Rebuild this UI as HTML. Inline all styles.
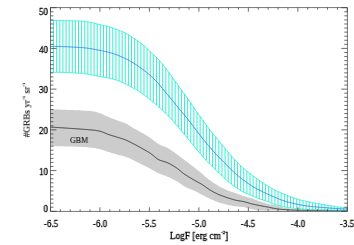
<!DOCTYPE html>
<html><head><meta charset="utf-8"><style>
html,body{margin:0;padding:0;background:#fff;}
body{width:354px;height:245px;position:relative;overflow:hidden;font-family:"Liberation Serif",serif;color:#000;}
div{will-change:transform;-webkit-text-stroke:0.3px #000;}
svg{position:absolute;left:0;top:0;}
.xl{position:absolute;top:217.6px;width:40px;text-align:center;font-size:10px;line-height:12px;transform:scaleX(0.9);}
.yl{position:absolute;left:17.9px;width:30px;text-align:right;font-size:10px;line-height:12px;transform:scaleX(0.9);transform-origin:100% 50%;}
.xt{position:absolute;left:99px;width:200px;top:229.6px;text-align:center;font-size:10px;line-height:12px;white-space:nowrap;transform:scaleX(0.93);}
.yt{position:absolute;left:26.9px;top:109.5px;width:0;height:0;}
.yt span{position:absolute;display:block;width:120px;left:-60px;top:-6px;text-align:center;font-size:10px;line-height:12px;transform:rotate(-90deg) scale(0.93,0.88);-webkit-text-stroke:0.12px #000;white-space:nowrap;}
sup{font-size:5px;line-height:0;vertical-align:5px;margin-left:0.3px;}
.gbm{position:absolute;left:70.4px;top:133.6px;font-size:8.6px;line-height:12px;transform:scaleX(0.92);transform-origin:0 50%;-webkit-text-stroke:0.15px #222;color:#222;}
</style></head><body>
<svg width="354" height="245" viewBox="0 0 354 245">
<path d="M50.5,109.30 L51.5,109.33 L52.5,109.36 L53.5,109.40 L54.5,109.43 L55.5,109.46 L56.5,109.50 L57.5,109.53 L58.5,109.57 L59.5,109.60 L60.5,109.64 L61.5,109.67 L62.5,109.71 L63.5,109.75 L64.5,109.78 L65.5,109.82 L66.5,109.86 L67.5,109.89 L68.5,109.93 L69.5,109.97 L70.5,110.00 L71.5,110.04 L72.5,110.07 L73.5,110.11 L74.5,110.15 L75.5,110.19 L76.5,110.23 L77.5,110.28 L78.5,110.32 L79.5,110.37 L80.5,110.42 L81.5,110.47 L82.5,110.53 L83.5,110.59 L84.5,110.65 L85.5,110.71 L86.5,110.78 L87.5,110.85 L88.5,110.93 L89.5,111.01 L90.5,111.11 L91.5,111.21 L92.5,111.33 L93.5,111.45 L94.5,111.61 L95.5,111.83 L96.5,112.10 L97.5,112.41 L98.5,112.74 L99.5,113.08 L100.5,113.44 L101.5,113.84 L102.5,114.27 L103.5,114.73 L104.5,115.20 L105.5,115.66 L106.5,116.13 L107.5,116.57 L108.5,116.99 L109.5,117.39 L110.5,117.80 L111.5,118.20 L112.5,118.60 L113.5,118.99 L114.5,119.37 L115.5,119.76 L116.5,120.13 L117.5,120.50 L118.5,120.85 L119.5,121.17 L120.5,121.50 L121.5,121.82 L122.5,122.16 L123.5,122.51 L124.5,122.90 L125.5,123.32 L126.5,123.81 L127.5,124.36 L128.4,124.96 L129.4,125.59 L130.4,126.24 L131.4,126.89 L132.4,127.53 L133.4,128.14 L134.4,128.71 L135.4,129.26 L136.4,129.80 L137.4,130.32 L138.4,130.85 L139.4,131.38 L140.4,131.91 L141.4,132.46 L142.4,133.03 L143.4,133.61 L144.4,134.20 L145.4,134.80 L146.4,135.40 L147.4,136.02 L148.4,136.66 L149.4,137.30 L150.4,137.96 L151.4,138.66 L152.4,139.41 L153.4,140.21 L154.4,141.03 L155.4,141.84 L156.4,142.62 L157.4,143.34 L158.4,143.99 L159.4,144.53 L160.4,145.00 L161.4,145.41 L162.4,145.79 L163.4,146.16 L164.4,146.53 L165.4,146.93 L166.4,147.38 L167.4,147.89 L168.4,148.46 L169.4,149.07 L170.4,149.73 L171.4,150.41 L172.4,151.11 L173.4,151.82 L174.4,152.53 L175.4,153.23 L176.4,153.94 L177.4,154.66 L178.4,155.40 L179.4,156.14 L180.4,156.89 L181.4,157.65 L182.4,158.40 L183.4,159.16 L184.4,159.92 L185.4,160.68 L186.4,161.44 L187.4,162.21 L188.4,162.98 L189.4,163.75 L190.4,164.52 L191.4,165.30 L192.4,166.07 L193.4,166.85 L194.4,167.61 L195.4,168.37 L196.4,169.13 L197.4,169.89 L198.4,170.67 L199.4,171.47 L200.4,172.29 L201.4,173.16 L202.4,174.09 L203.4,175.04 L204.4,175.97 L205.4,176.84 L206.4,177.65 L207.4,178.42 L208.4,179.17 L209.4,179.90 L210.4,180.62 L211.4,181.34 L212.4,182.03 L213.4,182.70 L214.4,183.36 L215.4,183.99 L216.4,184.60 L217.4,185.21 L218.4,185.80 L219.4,186.38 L220.4,186.94 L221.4,187.49 L222.4,188.03 L223.4,188.55 L224.4,189.06 L225.4,189.55 L226.4,190.01 L227.4,190.42 L228.4,190.80 L229.4,191.15 L230.4,191.48 L231.4,191.81 L232.4,192.12 L233.4,192.45 L234.4,192.77 L235.4,193.12 L236.4,193.48 L237.4,193.85 L238.4,194.23 L239.4,194.61 L240.4,194.99 L241.4,195.36 L242.4,195.71 L243.4,196.05 L244.4,196.37 L245.4,196.66 L246.4,196.94 L247.4,197.21 L248.4,197.47 L249.4,197.74 L250.4,198.01 L251.4,198.30 L252.4,198.62 L253.4,198.96 L254.4,199.34 L255.4,199.74 L256.4,200.14 L257.4,200.52 L258.4,200.88 L259.4,201.22 L260.4,201.56 L261.4,201.88 L262.4,202.20 L263.4,202.51 L264.4,202.81 L265.4,203.10 L266.4,203.38 L267.4,203.64 L268.4,203.90 L269.4,204.14 L270.4,204.37 L271.4,204.60 L272.4,204.83 L273.4,205.05 L274.4,205.28 L275.4,205.51 L276.4,205.75 L277.4,206.00 L278.4,206.25 L279.4,206.49 L280.4,206.74 L281.4,206.98 L282.4,207.20 L283.4,207.41 L284.4,207.61 L285.4,207.80 L286.4,207.99 L287.4,208.18 L288.4,208.36 L289.4,208.52 L290.4,208.67 L291.4,208.80 L292.4,208.90 L293.4,208.99 L294.4,209.07 L295.4,209.14 L296.4,209.20 L297.4,209.26 L298.4,209.31 L299.4,209.37 L300.4,209.43 L301.4,209.48 L302.4,209.54 L303.4,209.60 L304.4,209.66 L305.4,209.71 L306.4,209.77 L307.4,209.81 L308.4,209.85 L309.4,209.89 L310.4,209.91 L311.4,209.93 L312.4,209.96 L313.4,209.98 L314.4,210.00 L315.4,210.02 L316.4,210.03 L317.4,210.05 L318.4,210.07 L319.4,210.08 L320.4,210.10 L321.4,210.11 L322.4,210.12 L323.4,210.14 L324.4,210.15 L325.4,210.16 L326.4,210.17 L327.4,210.18 L328.4,210.19 L329.4,210.20 L330.4,210.20 L331.4,210.21 L332.4,210.22 L333.4,210.23 L334.4,210.24 L335.4,210.24 L336.4,210.25 L337.4,210.26 L338.4,210.26 L339.4,210.27 L340.4,210.27 L341.4,210.28 L342.4,210.28 L343.4,210.29 L344.4,210.29 L345.4,210.30 L346.4,210.30 L346.4,210.50 L345.4,210.50 L344.4,210.50 L343.4,210.50 L342.4,210.50 L341.4,210.50 L340.4,210.50 L339.4,210.50 L338.4,210.50 L337.4,210.50 L336.4,210.50 L335.4,210.50 L334.4,210.50 L333.4,210.50 L332.4,210.50 L331.4,210.50 L330.4,210.50 L329.4,210.50 L328.4,210.50 L327.4,210.50 L326.4,210.50 L325.4,210.50 L324.4,210.50 L323.4,210.50 L322.4,210.50 L321.4,210.50 L320.4,210.50 L319.4,210.50 L318.4,210.50 L317.4,210.50 L316.4,210.50 L315.4,210.50 L314.4,210.50 L313.4,210.50 L312.4,210.50 L311.4,210.50 L310.4,210.50 L309.4,210.50 L308.4,210.50 L307.4,210.50 L306.4,210.50 L305.4,210.50 L304.4,210.50 L303.4,210.50 L302.4,210.50 L301.4,210.50 L300.4,210.50 L299.4,210.50 L298.4,210.50 L297.4,210.50 L296.4,210.50 L295.4,210.50 L294.4,210.50 L293.4,210.50 L292.4,210.50 L291.4,210.50 L290.4,210.50 L289.4,210.50 L288.4,210.50 L287.4,210.50 L286.4,210.50 L285.4,210.50 L284.4,210.50 L283.4,210.50 L282.4,210.50 L281.4,210.50 L280.4,210.50 L279.4,210.50 L278.4,210.50 L277.4,210.50 L276.4,210.50 L275.4,210.50 L274.4,210.50 L273.4,210.50 L272.4,210.50 L271.4,210.50 L270.4,210.50 L269.4,210.50 L268.4,210.50 L267.4,210.48 L266.4,210.46 L265.4,210.44 L264.4,210.40 L263.4,210.37 L262.4,210.32 L261.4,210.27 L260.4,210.22 L259.4,210.17 L258.4,210.08 L257.4,209.98 L256.4,209.85 L255.4,209.70 L254.4,209.54 L253.4,209.38 L252.4,209.21 L251.4,209.01 L250.4,208.77 L249.4,208.49 L248.4,208.20 L247.4,207.91 L246.4,207.63 L245.4,207.39 L244.4,207.19 L243.4,207.04 L242.4,206.93 L241.4,206.83 L240.4,206.75 L239.4,206.68 L238.4,206.60 L237.4,206.52 L236.4,206.42 L235.4,206.31 L234.4,206.17 L233.4,206.00 L232.4,205.82 L231.4,205.62 L230.4,205.41 L229.4,205.18 L228.4,204.95 L227.4,204.73 L226.4,204.50 L225.4,204.27 L224.4,204.03 L223.4,203.79 L222.4,203.53 L221.4,203.26 L220.4,202.98 L219.4,202.67 L218.4,202.35 L217.4,201.99 L216.4,201.60 L215.4,201.19 L214.4,200.76 L213.4,200.31 L212.4,199.85 L211.4,199.38 L210.4,198.92 L209.4,198.46 L208.4,197.97 L207.4,197.48 L206.4,196.97 L205.4,196.46 L204.4,195.94 L203.4,195.43 L202.4,194.93 L201.4,194.42 L200.4,193.90 L199.4,193.39 L198.4,192.87 L197.4,192.35 L196.4,191.84 L195.4,191.35 L194.4,190.86 L193.4,190.39 L192.4,189.95 L191.4,189.54 L190.4,189.13 L189.4,188.73 L188.4,188.32 L187.4,187.89 L186.4,187.43 L185.4,186.93 L184.4,186.37 L183.4,185.74 L182.4,185.06 L181.4,184.36 L180.4,183.64 L179.4,182.93 L178.4,182.25 L177.4,181.62 L176.4,181.05 L175.4,180.50 L174.4,179.98 L173.4,179.46 L172.4,178.97 L171.4,178.49 L170.4,178.02 L169.4,177.56 L168.4,177.11 L167.4,176.68 L166.4,176.26 L165.4,175.87 L164.4,175.50 L163.4,175.14 L162.4,174.78 L161.4,174.40 L160.4,174.01 L159.4,173.60 L158.4,173.15 L157.4,172.66 L156.4,172.15 L155.4,171.61 L154.4,171.06 L153.4,170.51 L152.4,169.95 L151.4,169.41 L150.4,168.87 L149.4,168.35 L148.4,167.83 L147.4,167.31 L146.4,166.79 L145.4,166.27 L144.4,165.75 L143.4,165.24 L142.4,164.73 L141.4,164.21 L140.4,163.69 L139.4,163.17 L138.4,162.66 L137.4,162.14 L136.4,161.64 L135.4,161.14 L134.4,160.66 L133.4,160.19 L132.4,159.71 L131.4,159.24 L130.4,158.77 L129.4,158.31 L128.4,157.87 L127.5,157.45 L126.5,157.06 L125.5,156.72 L124.5,156.41 L123.5,156.13 L122.5,155.87 L121.5,155.62 L120.5,155.39 L119.5,155.15 L118.5,154.91 L117.5,154.65 L116.5,154.37 L115.5,154.09 L114.5,153.79 L113.5,153.49 L112.5,153.18 L111.5,152.88 L110.5,152.56 L109.5,152.25 L108.5,151.94 L107.5,151.63 L106.5,151.30 L105.5,150.96 L104.5,150.61 L103.5,150.27 L102.5,149.94 L101.5,149.63 L100.5,149.34 L99.5,149.09 L98.5,148.86 L97.5,148.64 L96.5,148.44 L95.5,148.25 L94.5,148.09 L93.5,147.95 L92.5,147.83 L91.5,147.71 L90.5,147.59 L89.5,147.48 L88.5,147.38 L87.5,147.29 L86.5,147.20 L85.5,147.12 L84.5,147.05 L83.5,146.98 L82.5,146.93 L81.5,146.88 L80.5,146.84 L79.5,146.80 L78.5,146.76 L77.5,146.72 L76.5,146.69 L75.5,146.66 L74.5,146.63 L73.5,146.61 L72.5,146.58 L71.5,146.55 L70.5,146.53 L69.5,146.51 L68.5,146.48 L67.5,146.46 L66.5,146.44 L65.5,146.41 L64.5,146.39 L63.5,146.37 L62.5,146.34 L61.5,146.32 L60.5,146.30 L59.5,146.27 L58.5,146.25 L57.5,146.23 L56.5,146.21 L55.5,146.19 L54.5,146.17 L53.5,146.15 L52.5,146.13 L51.5,146.12 L50.5,146.10 Z" fill="#cccccc"/>
<path d="M50.5,127.10 L51.5,127.16 L52.5,127.22 L53.5,127.28 L54.5,127.34 L55.5,127.40 L56.5,127.46 L57.5,127.52 L58.5,127.58 L59.5,127.65 L60.5,127.71 L61.5,127.77 L62.5,127.84 L63.5,127.90 L64.5,127.97 L65.5,128.04 L66.5,128.10 L67.5,128.17 L68.5,128.24 L69.5,128.30 L70.5,128.37 L71.5,128.44 L72.5,128.51 L73.5,128.58 L74.5,128.65 L75.5,128.72 L76.5,128.79 L77.5,128.87 L78.5,128.94 L79.5,129.01 L80.5,129.09 L81.5,129.17 L82.5,129.24 L83.5,129.32 L84.5,129.39 L85.5,129.46 L86.5,129.54 L87.5,129.61 L88.5,129.69 L89.5,129.78 L90.5,129.86 L91.5,129.95 L92.5,130.05 L93.5,130.16 L94.5,130.28 L95.5,130.40 L96.5,130.55 L97.5,130.71 L98.5,130.89 L99.5,131.09 L100.5,131.34 L101.5,131.66 L102.5,132.02 L103.5,132.43 L104.5,132.85 L105.5,133.29 L106.5,133.71 L107.5,134.12 L108.5,134.48 L109.5,134.82 L110.5,135.14 L111.5,135.44 L112.5,135.75 L113.5,136.05 L114.5,136.35 L115.5,136.65 L116.5,136.96 L117.5,137.27 L118.5,137.59 L119.5,137.89 L120.5,138.20 L121.5,138.52 L122.5,138.84 L123.5,139.18 L124.5,139.54 L125.5,139.92 L126.5,140.33 L127.5,140.77 L128.4,141.24 L129.4,141.72 L130.4,142.23 L131.4,142.74 L132.4,143.25 L133.4,143.77 L134.4,144.28 L135.4,144.80 L136.4,145.33 L137.4,145.86 L138.4,146.40 L139.4,146.95 L140.4,147.51 L141.4,148.06 L142.4,148.63 L143.4,149.19 L144.4,149.76 L145.4,150.33 L146.4,150.90 L147.4,151.49 L148.4,152.09 L149.4,152.72 L150.4,153.37 L151.4,154.07 L152.4,154.86 L153.4,155.70 L154.4,156.55 L155.4,157.39 L156.4,158.19 L157.4,158.91 L158.4,159.52 L159.4,160.00 L160.4,160.40 L161.4,160.74 L162.4,161.05 L163.4,161.34 L164.4,161.64 L165.4,161.96 L166.4,162.32 L167.4,162.74 L168.4,163.19 L169.4,163.67 L170.4,164.19 L171.4,164.73 L172.4,165.30 L173.4,165.89 L174.4,166.50 L175.4,167.13 L176.4,167.81 L177.4,168.56 L178.4,169.35 L179.4,170.17 L180.4,171.01 L181.4,171.83 L182.4,172.63 L183.4,173.38 L184.4,174.08 L185.4,174.75 L186.4,175.40 L187.4,176.04 L188.4,176.66 L189.4,177.28 L190.4,177.88 L191.4,178.48 L192.4,179.07 L193.4,179.66 L194.4,180.24 L195.4,180.79 L196.4,181.34 L197.4,181.88 L198.4,182.43 L199.4,182.98 L200.4,183.54 L201.4,184.12 L202.4,184.73 L203.4,185.38 L204.4,186.07 L205.4,186.79 L206.4,187.52 L207.4,188.24 L208.4,188.94 L209.4,189.61 L210.4,190.23 L211.4,190.81 L212.4,191.38 L213.4,191.94 L214.4,192.47 L215.4,192.99 L216.4,193.48 L217.4,193.96 L218.4,194.41 L219.4,194.83 L220.4,195.23 L221.4,195.62 L222.4,195.98 L223.4,196.34 L224.4,196.68 L225.4,197.02 L226.4,197.35 L227.4,197.68 L228.4,198.02 L229.4,198.35 L230.4,198.68 L231.4,199.00 L232.4,199.31 L233.4,199.60 L234.4,199.87 L235.4,200.11 L236.4,200.33 L237.4,200.53 L238.4,200.71 L239.4,200.88 L240.4,201.05 L241.4,201.22 L242.4,201.40 L243.4,201.60 L244.4,201.83 L245.4,202.08 L246.4,202.35 L247.4,202.63 L248.4,202.92 L249.4,203.21 L250.4,203.50 L251.4,203.76 L252.4,204.01 L253.4,204.24 L254.4,204.46 L255.4,204.68 L256.4,204.89 L257.4,205.09 L258.4,205.29 L259.4,205.49 L260.4,205.69 L261.4,205.88 L262.4,206.07 L263.4,206.25 L264.4,206.44 L265.4,206.62 L266.4,206.80 L267.4,206.99 L268.4,207.19 L269.4,207.40 L270.4,207.62 L271.4,207.84 L272.4,208.05 L273.4,208.26 L274.4,208.44 L275.4,208.61 L276.4,208.75 L277.4,208.89 L278.4,209.03 L279.4,209.15 L280.4,209.27 L281.4,209.38 L282.4,209.48 L283.4,209.56 L284.4,209.64 L285.4,209.72 L286.4,209.79 L287.4,209.86 L288.4,209.92 L289.4,209.98 L290.4,210.03 L291.4,210.07 L292.4,210.10 L293.4,210.13 L294.4,210.15 L295.4,210.18 L296.4,210.20 L297.4,210.22 L298.4,210.24 L299.4,210.26 L300.4,210.28 L301.4,210.30 L302.4,210.31 L303.4,210.33 L304.4,210.34 L305.4,210.35 L306.4,210.36 L307.4,210.38 L308.4,210.39 L309.4,210.40 L310.4,210.40 L311.4,210.41 L312.4,210.42 L313.4,210.43 L314.4,210.44 L315.4,210.45 L316.4,210.45 L317.4,210.46 L318.4,210.47 L319.4,210.48 L320.4,210.49 L321.4,210.49 L322.4,210.50 L323.4,210.51 L324.4,210.51 L325.4,210.52 L326.4,210.53 L327.4,210.53 L328.4,210.54 L329.4,210.54 L330.4,210.55 L331.4,210.56 L332.4,210.56 L333.4,210.57 L334.4,210.57 L335.4,210.57 L336.4,210.58 L337.4,210.58 L338.4,210.59 L339.4,210.59 L340.4,210.59 L341.4,210.59 L342.4,210.60 L343.4,210.60 L344.4,210.60 L345.4,210.60 L346.4,210.60" fill="none" stroke="#3a3a3a" stroke-width="1.0"/>
<defs><filter id="b" x="-5%" y="-5%" width="110%" height="110%"><feGaussianBlur stdDeviation="0.25 0.15"/></filter></defs>
<g filter="url(#b)"><path d="M53.57,20.42V72.21M56.69,20.46V72.26M59.80,20.51V72.32M62.92,20.56V72.42M66.04,20.62V72.53M69.16,20.69V72.67M72.28,20.78V72.82M75.39,20.88V72.99M78.51,21.02V73.18M81.63,21.18V73.38M84.75,21.47V73.68M87.87,21.94V74.17M90.98,22.48V74.77M94.10,23.19V75.43M97.22,24.00V76.08M100.34,24.78V76.66M103.46,25.48V77.14M106.57,26.20V77.64M109.69,27.05V78.25M112.81,28.09V79.00M115.93,29.24V79.89M119.05,30.39V80.99M122.16,31.57V82.36M125.28,32.94V83.84M128.40,34.67V85.36M131.52,36.70V86.98M134.64,38.79V88.72M137.75,40.87V90.61M140.87,43.11V92.65M143.99,45.65V94.84M147.11,48.60V97.23M150.23,51.65V99.73M153.34,54.55V102.29M156.46,57.42V104.93M159.58,60.61V107.67M162.70,64.34V110.50M165.82,68.40V113.44M168.93,72.58V116.55M172.05,76.93V119.89M175.17,81.25V123.42M178.29,85.53V127.01M181.41,89.82V130.73M184.52,94.14V134.49M187.64,98.49V138.24M190.76,102.94V142.00M193.88,107.68V145.76M197.00,112.24V149.56M200.11,116.44V153.32M203.23,120.64V156.90M206.35,124.99V160.33M209.47,129.27V163.64M212.59,133.30V166.86M215.70,137.15V169.99M218.82,140.95V173.01M221.94,144.71V175.91M225.06,148.43V178.71M228.18,152.12V181.38M231.29,155.86V183.99M234.41,159.45V186.40M237.53,162.66V188.52M240.65,165.61V190.43M243.77,168.38V192.13M246.88,171.00V193.60M250.00,173.46V194.91M253.12,175.85V196.20M256.24,178.17V197.52M259.36,180.41V198.76M262.47,182.52V199.83M265.59,184.52V200.79M268.71,186.43V201.87M271.83,188.33V203.27M274.95,190.07V204.55M278.06,191.55V205.44M281.18,192.88V206.15M284.30,194.17V206.78M287.42,195.46V207.35M290.54,196.71V207.85M293.65,197.84V208.24M296.77,198.91V208.55M299.89,199.85V208.82M303.01,200.64V209.11M306.13,201.32V209.40M309.24,201.95V209.60M312.36,202.56V209.70M315.48,203.15V209.77M318.60,203.71V209.83M321.72,204.26V209.89M324.83,204.79V209.94M327.95,205.31V210.00M331.07,205.83V210.08M334.19,206.34V210.18M337.31,206.84V210.28M340.42,207.31V210.35M343.54,207.74V210.40M346.66,208.11V210.40" fill="none" stroke="#1eecce" stroke-width="0.9"/>
<path d="M50.5,20.40 L51.5,20.40 L52.5,20.41 L53.5,20.42 L54.5,20.43 L55.5,20.44 L56.5,20.45 L57.5,20.47 L58.5,20.48 L59.5,20.50 L60.5,20.52 L61.5,20.53 L62.5,20.55 L63.5,20.57 L64.5,20.59 L65.5,20.61 L66.5,20.63 L67.5,20.65 L68.5,20.68 L69.5,20.70 L70.5,20.73 L71.5,20.75 L72.5,20.78 L73.5,20.82 L74.5,20.85 L75.5,20.89 L76.5,20.93 L77.5,20.97 L78.5,21.01 L79.5,21.06 L80.5,21.12 L81.5,21.17 L82.5,21.24 L83.5,21.33 L84.5,21.44 L85.5,21.57 L86.5,21.71 L87.5,21.87 L88.5,22.03 L89.5,22.21 L90.5,22.38 L91.5,22.58 L92.5,22.79 L93.5,23.03 L94.5,23.28 L95.5,23.53 L96.5,23.80 L97.5,24.06 L98.5,24.32 L99.5,24.57 L100.5,24.81 L101.5,25.03 L102.5,25.26 L103.5,25.48 L104.5,25.70 L105.5,25.93 L106.5,26.17 L107.5,26.42 L108.5,26.69 L109.5,26.98 L110.5,27.29 L111.5,27.62 L112.5,27.97 L113.5,28.32 L114.5,28.69 L115.5,29.06 L116.5,29.43 L117.5,29.80 L118.5,30.17 L119.5,30.54 L120.5,30.91 L121.5,31.29 L122.5,31.69 L123.5,32.11 L124.5,32.55 L125.5,33.02 L126.5,33.54 L127.5,34.10 L128.4,34.70 L129.4,35.34 L130.4,35.99 L131.4,36.66 L132.4,37.33 L133.4,38.00 L134.4,38.66 L135.4,39.33 L136.4,39.99 L137.4,40.67 L138.4,41.35 L139.4,42.06 L140.4,42.79 L141.4,43.55 L142.4,44.34 L143.4,45.18 L144.4,46.07 L145.4,47.00 L146.4,47.96 L147.4,48.93 L148.4,49.92 L149.4,50.90 L150.4,51.87 L151.4,52.81 L152.4,53.73 L153.4,54.64 L154.4,55.55 L155.4,56.47 L156.4,57.41 L157.4,58.38 L158.4,59.40 L159.4,60.46 L160.4,61.59 L161.4,62.79 L162.4,64.03 L163.4,65.30 L164.4,66.61 L165.4,67.92 L166.4,69.23 L167.4,70.56 L168.4,71.92 L169.4,73.29 L170.4,74.69 L171.4,76.09 L172.4,77.49 L173.4,78.88 L174.4,80.26 L175.4,81.63 L176.4,83.00 L177.4,84.38 L178.4,85.75 L179.4,87.12 L180.4,88.50 L181.4,89.88 L182.4,91.27 L183.4,92.66 L184.4,94.04 L185.4,95.43 L186.4,96.82 L187.4,98.22 L188.4,99.63 L189.4,101.05 L190.4,102.49 L191.4,103.96 L192.4,105.48 L193.4,107.02 L194.4,108.55 L195.4,110.05 L196.4,111.48 L197.4,112.86 L198.4,114.22 L199.4,115.55 L200.4,116.88 L201.4,118.22 L202.4,119.57 L203.4,120.94 L204.4,122.33 L205.4,123.73 L206.4,125.13 L207.4,126.52 L208.4,127.89 L209.4,129.24 L210.4,130.57 L211.4,131.86 L212.4,133.13 L213.4,134.38 L214.4,135.62 L215.4,136.84 L216.4,138.06 L217.4,139.28 L218.4,140.50 L219.4,141.71 L220.4,142.92 L221.4,144.13 L222.4,145.33 L223.4,146.52 L224.4,147.71 L225.4,148.90 L226.4,150.08 L227.4,151.26 L228.4,152.45 L229.4,153.65 L230.4,154.85 L231.4,156.05 L232.4,157.22 L233.4,158.37 L234.4,159.49 L235.4,160.55 L236.4,161.58 L237.4,162.58 L238.4,163.55 L239.4,164.50 L240.4,165.43 L241.4,166.34 L242.4,167.23 L243.4,168.11 L244.4,168.97 L245.4,169.82 L246.4,170.64 L247.4,171.45 L248.4,172.25 L249.4,173.03 L250.4,173.81 L251.4,174.58 L252.4,175.34 L253.4,176.10 L254.4,176.85 L255.4,177.59 L256.4,178.33 L257.4,179.05 L258.4,179.77 L259.4,180.47 L260.4,181.16 L261.4,181.84 L262.4,182.50 L263.4,183.15 L264.4,183.79 L265.4,184.43 L266.4,185.05 L267.4,185.66 L268.4,186.27 L269.4,186.89 L270.4,187.50 L271.4,188.10 L272.4,188.69 L273.4,189.26 L274.4,189.81 L275.4,190.32 L276.4,190.81 L277.4,191.27 L278.4,191.72 L279.4,192.15 L280.4,192.57 L281.4,192.99 L282.4,193.40 L283.4,193.81 L284.4,194.23 L285.4,194.65 L286.4,195.06 L287.4,195.48 L288.4,195.89 L289.4,196.29 L290.4,196.68 L291.4,197.05 L292.4,197.42 L293.4,197.77 L294.4,198.12 L295.4,198.47 L296.4,198.80 L297.4,199.13 L298.4,199.44 L299.4,199.73 L300.4,200.01 L301.4,200.27 L302.4,200.51 L303.4,200.74 L304.4,200.97 L305.4,201.18 L306.4,201.39 L307.4,201.59 L308.4,201.79 L309.4,201.99 L310.4,202.19 L311.4,202.38 L312.4,202.58 L313.4,202.77 L314.4,202.96 L315.4,203.14 L316.4,203.32 L317.4,203.51 L318.4,203.68 L319.4,203.86 L320.4,204.04 L321.4,204.21 L322.4,204.38 L323.4,204.55 L324.4,204.72 L325.4,204.89 L326.4,205.06 L327.4,205.23 L328.4,205.39 L329.4,205.56 L330.4,205.72 L331.4,205.89 L332.4,206.05 L333.4,206.22 L334.4,206.38 L335.4,206.54 L336.4,206.70 L337.4,206.86 L338.4,207.01 L339.4,207.16 L340.4,207.31 L341.4,207.45 L342.4,207.59 L343.4,207.73 L344.4,207.86 L345.4,207.98 L346.4,208.09" fill="none" stroke="#1eecce" stroke-width="0.85"/>
<path d="M50.5,72.20 L51.5,72.20 L52.5,72.21 L53.5,72.21 L54.5,72.22 L55.5,72.24 L56.5,72.25 L57.5,72.27 L58.5,72.29 L59.5,72.32 L60.5,72.34 L61.5,72.37 L62.5,72.40 L63.5,72.43 L64.5,72.47 L65.5,72.51 L66.5,72.55 L67.5,72.59 L68.5,72.63 L69.5,72.68 L70.5,72.73 L71.5,72.78 L72.5,72.83 L73.5,72.88 L74.5,72.94 L75.5,73.00 L76.5,73.06 L77.5,73.12 L78.5,73.18 L79.5,73.24 L80.5,73.30 L81.5,73.37 L82.5,73.44 L83.5,73.53 L84.5,73.65 L85.5,73.78 L86.5,73.93 L87.5,74.10 L88.5,74.27 L89.5,74.47 L90.5,74.66 L91.5,74.87 L92.5,75.08 L93.5,75.29 L94.5,75.51 L95.5,75.72 L96.5,75.93 L97.5,76.13 L98.5,76.32 L99.5,76.50 L100.5,76.68 L101.5,76.84 L102.5,76.99 L103.5,77.14 L104.5,77.30 L105.5,77.45 L106.5,77.62 L107.5,77.80 L108.5,77.99 L109.5,78.20 L110.5,78.42 L111.5,78.65 L112.5,78.90 L113.5,79.17 L114.5,79.45 L115.5,79.74 L116.5,80.05 L117.5,80.39 L118.5,80.75 L119.5,81.15 L120.5,81.58 L121.5,82.03 L122.5,82.50 L123.5,82.97 L124.5,83.45 L125.5,83.92 L126.5,84.40 L127.5,84.89 L128.4,85.39 L129.4,85.89 L130.4,86.41 L131.4,86.94 L132.4,87.49 L133.4,88.04 L134.4,88.62 L135.4,89.20 L136.4,89.81 L137.4,90.42 L138.4,91.06 L139.4,91.70 L140.4,92.37 L141.4,93.04 L142.4,93.73 L143.4,94.45 L144.4,95.18 L145.4,95.94 L146.4,96.71 L147.4,97.50 L148.4,98.30 L149.4,99.11 L150.4,99.92 L151.4,100.73 L152.4,101.55 L153.4,102.38 L154.4,103.22 L155.4,104.06 L156.4,104.92 L157.4,105.79 L158.4,106.67 L159.4,107.56 L160.4,108.45 L161.4,109.36 L162.4,110.27 L163.4,111.20 L164.4,112.13 L165.4,113.08 L166.4,114.05 L167.4,115.04 L168.4,116.05 L169.4,117.08 L170.4,118.14 L171.4,119.23 L172.4,120.34 L173.4,121.46 L174.4,122.59 L175.4,123.74 L176.4,124.88 L177.4,126.03 L178.4,127.20 L179.4,128.38 L180.4,129.58 L181.4,130.78 L182.4,131.99 L183.4,133.19 L184.4,134.40 L185.4,135.60 L186.4,136.80 L187.4,138.00 L188.4,139.21 L189.4,140.42 L190.4,141.62 L191.4,142.83 L192.4,144.04 L193.4,145.24 L194.4,146.45 L195.4,147.67 L196.4,148.89 L197.4,150.11 L198.4,151.33 L199.4,152.53 L200.4,153.72 L201.4,154.88 L202.4,156.02 L203.4,157.15 L204.4,158.26 L205.4,159.35 L206.4,160.44 L207.4,161.51 L208.4,162.57 L209.4,163.62 L210.4,164.66 L211.4,165.69 L212.4,166.72 L213.4,167.74 L214.4,168.74 L215.4,169.74 L216.4,170.72 L217.4,171.69 L218.4,172.65 L219.4,173.60 L220.4,174.54 L221.4,175.46 L222.4,176.38 L223.4,177.28 L224.4,178.17 L225.4,179.05 L226.4,179.92 L227.4,180.77 L228.4,181.62 L229.4,182.46 L230.4,183.30 L231.4,184.12 L232.4,184.92 L233.4,185.69 L234.4,186.43 L235.4,187.13 L236.4,187.81 L237.4,188.47 L238.4,189.10 L239.4,189.72 L240.4,190.32 L241.4,190.89 L242.4,191.44 L243.4,191.97 L244.4,192.47 L245.4,192.95 L246.4,193.40 L247.4,193.84 L248.4,194.26 L249.4,194.68 L250.4,195.09 L251.4,195.50 L252.4,195.92 L253.4,196.34 L254.4,196.77 L255.4,197.19 L256.4,197.61 L257.4,198.02 L258.4,198.42 L259.4,198.80 L260.4,199.16 L261.4,199.50 L262.4,199.82 L263.4,200.13 L264.4,200.43 L265.4,200.74 L266.4,201.06 L267.4,201.40 L268.4,201.77 L269.4,202.18 L270.4,202.63 L271.4,203.09 L272.4,203.55 L273.4,203.99 L274.4,204.38 L275.4,204.72 L276.4,205.01 L277.4,205.28 L278.4,205.53 L279.4,205.77 L280.4,206.00 L281.4,206.21 L282.4,206.41 L283.4,206.61 L284.4,206.81 L285.4,207.00 L286.4,207.18 L287.4,207.36 L288.4,207.53 L289.4,207.69 L290.4,207.84 L291.4,207.98 L292.4,208.11 L293.4,208.22 L294.4,208.33 L295.4,208.43 L296.4,208.52 L297.4,208.61 L298.4,208.70 L299.4,208.78 L300.4,208.87 L301.4,208.96 L302.4,209.05 L303.4,209.15 L304.4,209.25 L305.4,209.34 L306.4,209.43 L307.4,209.50 L308.4,209.56 L309.4,209.61 L310.4,209.64 L311.4,209.67 L312.4,209.70 L313.4,209.73 L314.4,209.75 L315.4,209.77 L316.4,209.79 L317.4,209.81 L318.4,209.83 L319.4,209.85 L320.4,209.86 L321.4,209.88 L322.4,209.90 L323.4,209.91 L324.4,209.93 L325.4,209.95 L326.4,209.97 L327.4,209.99 L328.4,210.01 L329.4,210.04 L330.4,210.07 L331.4,210.10 L332.4,210.13 L333.4,210.16 L334.4,210.19 L335.4,210.22 L336.4,210.25 L337.4,210.28 L338.4,210.31 L339.4,210.33 L340.4,210.35 L341.4,210.37 L342.4,210.39 L343.4,210.39 L344.4,210.40 L345.4,210.40 L346.4,210.40" fill="none" stroke="#1eecce" stroke-width="0.85"/></g>
<path d="M50.5,46.40 L51.5,46.40 L52.5,46.41 L53.5,46.41 L54.5,46.42 L55.5,46.44 L56.5,46.45 L57.5,46.47 L58.5,46.49 L59.5,46.52 L60.5,46.55 L61.5,46.57 L62.5,46.61 L63.5,46.64 L64.5,46.68 L65.5,46.72 L66.5,46.76 L67.5,46.80 L68.5,46.84 L69.5,46.89 L70.5,46.94 L71.5,46.99 L72.5,47.04 L73.5,47.09 L74.5,47.15 L75.5,47.21 L76.5,47.26 L77.5,47.32 L78.5,47.38 L79.5,47.44 L80.5,47.51 L81.5,47.57 L82.5,47.64 L83.5,47.72 L84.5,47.82 L85.5,47.93 L86.5,48.05 L87.5,48.19 L88.5,48.33 L89.5,48.49 L90.5,48.65 L91.5,48.82 L92.5,49.00 L93.5,49.18 L94.5,49.36 L95.5,49.55 L96.5,49.74 L97.5,49.93 L98.5,50.11 L99.5,50.30 L100.5,50.48 L101.5,50.67 L102.5,50.86 L103.5,51.06 L104.5,51.26 L105.5,51.48 L106.5,51.70 L107.5,51.94 L108.5,52.19 L109.5,52.45 L110.5,52.73 L111.5,53.03 L112.5,53.35 L113.5,53.68 L114.5,54.02 L115.5,54.37 L116.5,54.73 L117.5,55.11 L118.5,55.50 L119.5,55.90 L120.5,56.33 L121.5,56.76 L122.5,57.21 L123.5,57.67 L124.5,58.14 L125.5,58.62 L126.5,59.11 L127.5,59.61 L128.4,60.13 L129.4,60.65 L130.4,61.20 L131.4,61.76 L132.4,62.33 L133.4,62.93 L134.4,63.54 L135.4,64.19 L136.4,64.86 L137.4,65.56 L138.4,66.27 L139.4,67.00 L140.4,67.74 L141.4,68.49 L142.4,69.24 L143.4,69.99 L144.4,70.74 L145.4,71.51 L146.4,72.29 L147.4,73.08 L148.4,73.90 L149.4,74.73 L150.4,75.59 L151.4,76.48 L152.4,77.41 L153.4,78.37 L154.4,79.36 L155.4,80.37 L156.4,81.42 L157.4,82.50 L158.4,83.62 L159.4,84.78 L160.4,85.97 L161.4,87.18 L162.4,88.41 L163.4,89.64 L164.4,90.86 L165.4,92.06 L166.4,93.25 L167.4,94.44 L168.4,95.63 L169.4,96.83 L170.4,98.02 L171.4,99.23 L172.4,100.43 L173.4,101.65 L174.4,102.88 L175.4,104.13 L176.4,105.40 L177.4,106.67 L178.4,107.93 L179.4,109.18 L180.4,110.40 L181.4,111.58 L182.4,112.72 L183.4,113.84 L184.4,114.98 L185.4,116.16 L186.4,117.39 L187.4,118.65 L188.4,119.94 L189.4,121.24 L190.4,122.56 L191.4,123.88 L192.4,125.20 L193.4,126.51 L194.4,127.82 L195.4,129.12 L196.4,130.44 L197.4,131.76 L198.4,133.07 L199.4,134.38 L200.4,135.68 L201.4,136.95 L202.4,138.21 L203.4,139.46 L204.4,140.70 L205.4,141.92 L206.4,143.14 L207.4,144.34 L208.4,145.53 L209.4,146.70 L210.4,147.86 L211.4,149.00 L212.4,150.13 L213.4,151.24 L214.4,152.34 L215.4,153.43 L216.4,154.51 L217.4,155.57 L218.4,156.63 L219.4,157.67 L220.4,158.70 L221.4,159.70 L222.4,160.70 L223.4,161.69 L224.4,162.68 L225.4,163.66 L226.4,164.65 L227.4,165.65 L228.4,166.67 L229.4,167.70 L230.4,168.74 L231.4,169.77 L232.4,170.79 L233.4,171.78 L234.4,172.74 L235.4,173.64 L236.4,174.51 L237.4,175.34 L238.4,176.15 L239.4,176.94 L240.4,177.71 L241.4,178.47 L242.4,179.22 L243.4,179.96 L244.4,180.71 L245.4,181.46 L246.4,182.20 L247.4,182.93 L248.4,183.65 L249.4,184.36 L250.4,185.04 L251.4,185.70 L252.4,186.33 L253.4,186.94 L254.4,187.52 L255.4,188.09 L256.4,188.64 L257.4,189.18 L258.4,189.71 L259.4,190.22 L260.4,190.73 L261.4,191.22 L262.4,191.70 L263.4,192.16 L264.4,192.61 L265.4,193.06 L266.4,193.51 L267.4,193.95 L268.4,194.40 L269.4,194.86 L270.4,195.32 L271.4,195.77 L272.4,196.22 L273.4,196.66 L274.4,197.10 L275.4,197.52 L276.4,197.94 L277.4,198.35 L278.4,198.77 L279.4,199.17 L280.4,199.57 L281.4,199.95 L282.4,200.31 L283.4,200.65 L284.4,200.97 L285.4,201.28 L286.4,201.56 L287.4,201.84 L288.4,202.11 L289.4,202.36 L290.4,202.62 L291.4,202.87 L292.4,203.11 L293.4,203.36 L294.4,203.61 L295.4,203.85 L296.4,204.09 L297.4,204.32 L298.4,204.54 L299.4,204.75 L300.4,204.94 L301.4,205.11 L302.4,205.28 L303.4,205.43 L304.4,205.59 L305.4,205.73 L306.4,205.87 L307.4,206.00 L308.4,206.12 L309.4,206.24 L310.4,206.35 L311.4,206.46 L312.4,206.56 L313.4,206.67 L314.4,206.77 L315.4,206.86 L316.4,206.96 L317.4,207.05 L318.4,207.14 L319.4,207.23 L320.4,207.31 L321.4,207.39 L322.4,207.48 L323.4,207.56 L324.4,207.64 L325.4,207.71 L326.4,207.79 L327.4,207.87 L328.4,207.94 L329.4,208.02 L330.4,208.09 L331.4,208.17 L332.4,208.24 L333.4,208.31 L334.4,208.38 L335.4,208.45 L336.4,208.52 L337.4,208.59 L338.4,208.65 L339.4,208.72 L340.4,208.78 L341.4,208.83 L342.4,208.89 L343.4,208.94 L344.4,208.98 L345.4,209.03 L346.4,209.06" fill="none" stroke="#3c84f0" stroke-width="1.0"/>
<rect x="50.45" y="7.7" width="296.85" height="203.60000000000002" fill="none" stroke="#404040" stroke-width="0.72"/>
<path d="M50.45,211.3v-4M50.45,7.7v4M60.35,211.3v-2M60.35,7.7v2M70.24,211.3v-2M70.24,7.7v2M80.14,211.3v-2M80.14,7.7v2M90.03,211.3v-2M90.03,7.7v2M99.93,211.3v-4M99.93,7.7v4M109.82,211.3v-2M109.82,7.7v2M119.72,211.3v-2M119.72,7.7v2M129.61,211.3v-2M129.61,7.7v2M139.50,211.3v-2M139.50,7.7v2M149.40,211.3v-4M149.40,7.7v4M159.30,211.3v-2M159.30,7.7v2M169.19,211.3v-2M169.19,7.7v2M179.09,211.3v-2M179.09,7.7v2M188.98,211.3v-2M188.98,7.7v2M198.88,211.3v-4M198.88,7.7v4M208.77,211.3v-2M208.77,7.7v2M218.67,211.3v-2M218.67,7.7v2M228.56,211.3v-2M228.56,7.7v2M238.46,211.3v-2M238.46,7.7v2M248.35,211.3v-4M248.35,7.7v4M258.25,211.3v-2M258.25,7.7v2M268.14,211.3v-2M268.14,7.7v2M278.04,211.3v-2M278.04,7.7v2M287.93,211.3v-2M287.93,7.7v2M297.83,211.3v-4M297.83,7.7v4M307.72,211.3v-2M307.72,7.7v2M317.62,211.3v-2M317.62,7.7v2M327.51,211.3v-2M327.51,7.7v2M337.41,211.3v-2M337.41,7.7v2M347.30,211.3v-4M347.30,7.7v4M50.45,211.30h6M347.3,211.30h-6M50.45,207.23h3M347.3,207.23h-3M50.45,203.16h3M347.3,203.16h-3M50.45,199.08h3M347.3,199.08h-3M50.45,195.01h3M347.3,195.01h-3M50.45,190.94h3M347.3,190.94h-3M50.45,186.87h3M347.3,186.87h-3M50.45,182.80h3M347.3,182.80h-3M50.45,178.72h3M347.3,178.72h-3M50.45,174.65h3M347.3,174.65h-3M50.45,170.58h6M347.3,170.58h-6M50.45,166.51h3M347.3,166.51h-3M50.45,162.44h3M347.3,162.44h-3M50.45,158.36h3M347.3,158.36h-3M50.45,154.29h3M347.3,154.29h-3M50.45,150.22h3M347.3,150.22h-3M50.45,146.15h3M347.3,146.15h-3M50.45,142.08h3M347.3,142.08h-3M50.45,138.00h3M347.3,138.00h-3M50.45,133.93h3M347.3,133.93h-3M50.45,129.86h6M347.3,129.86h-6M50.45,125.79h3M347.3,125.79h-3M50.45,121.72h3M347.3,121.72h-3M50.45,117.64h3M347.3,117.64h-3M50.45,113.57h3M347.3,113.57h-3M50.45,109.50h3M347.3,109.50h-3M50.45,105.43h3M347.3,105.43h-3M50.45,101.36h3M347.3,101.36h-3M50.45,97.28h3M347.3,97.28h-3M50.45,93.21h3M347.3,93.21h-3M50.45,89.14h6M347.3,89.14h-6M50.45,85.07h3M347.3,85.07h-3M50.45,81.00h3M347.3,81.00h-3M50.45,76.92h3M347.3,76.92h-3M50.45,72.85h3M347.3,72.85h-3M50.45,68.78h3M347.3,68.78h-3M50.45,64.71h3M347.3,64.71h-3M50.45,60.64h3M347.3,60.64h-3M50.45,56.56h3M347.3,56.56h-3M50.45,52.49h3M347.3,52.49h-3M50.45,48.42h6M347.3,48.42h-6M50.45,44.35h3M347.3,44.35h-3M50.45,40.28h3M347.3,40.28h-3M50.45,36.20h3M347.3,36.20h-3M50.45,32.13h3M347.3,32.13h-3M50.45,28.06h3M347.3,28.06h-3M50.45,23.99h3M347.3,23.99h-3M50.45,19.92h3M347.3,19.92h-3M50.45,15.84h3M347.3,15.84h-3M50.45,11.77h3M347.3,11.77h-3M50.45,7.70h6M347.3,7.70h-6" fill="none" stroke="#3a3a3a" stroke-width="0.75"/>
</svg>
<div class="xl" style="left:30.5px">-6.5</div>
<div class="xl" style="left:79.9px">-6.0</div>
<div class="xl" style="left:129.4px">-5.5</div>
<div class="xl" style="left:178.9px">-5.0</div>
<div class="xl" style="left:228.4px">-4.5</div>
<div class="xl" style="left:277.8px">-4.0</div>
<div class="xl" style="left:327.3px">-3.5</div>
<div class="yl" style="top:6.3px">50</div>
<div class="yl" style="top:43.8px">40</div>
<div class="yl" style="top:83.8px">30</div>
<div class="yl" style="top:124.7px">20</div>
<div class="yl" style="top:165.7px">10</div>
<div class="yl" style="top:203.1px">0</div>
<div class="xt">LogF [erg cm<sup>-2</sup>]</div>
<div class="yt"><span>#GRBs yr<sup>-1</sup> sr<sup>-1</sup></span></div>
<div class="gbm">GBM</div>
</body></html>
